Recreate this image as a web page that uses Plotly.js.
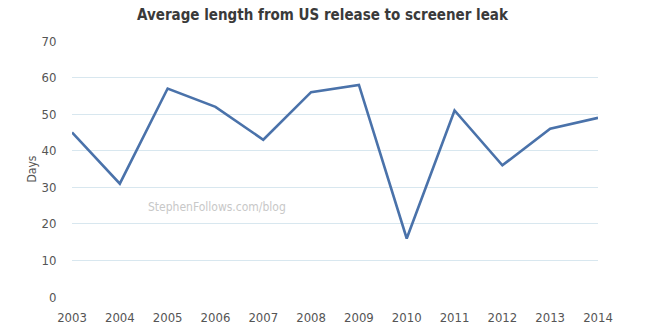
<!DOCTYPE html>
<html>
<head>
<meta charset="utf-8">
<script src="https://cdn.plot.ly/plotly-3.0.1.min.js"></script>
<style>html,body{margin:0;padding:0;background:#fff;}#chart{width:645px;height:331px;}</style>
</head>
<body>
<div id="chart"></div>
<script>
const years = [2003, 2004, 2005, 2006, 2007, 2008, 2009, 2010, 2011, 2012, 2013, 2014];
const days = [45, 31, 57, 52, 43, 56, 58, 16, 51, 36, 46, 49];
const yTicks = [0, 10, 20, 30, 40, 50, 60, 70];

const font = '"DejaVu Sans Condensed", "Liberation Sans Narrow", "Open Sans", sans-serif';

Plotly.newPlot('chart', [{
  x: years, y: days, type: 'scatter', mode: 'lines',
  line: {color: '#4a72aa', width: 2.6},
  hoverinfo: 'skip'
}], {
  width: 645, height: 331,
  margin: {l: 72, r: 47, t: 41, b: 34},
  paper_bgcolor: '#fff', plot_bgcolor: '#fff',
  showlegend: false,
  title: {text: '<b>Average length from US release to screener leak</b>',
          x: 0.5, xanchor: 'center', y: 0.955, yanchor: 'middle',
          font: {family: font, size: 15, color: '#3a3a3a'}},
  xaxis: {range: [2003, 2014], tickvals: years, ticktext: years.map(String),
          showgrid: false, zeroline: false, showline: false,
          ticks: 'outside', ticklen: 8, tickcolor: 'rgba(0,0,0,0)',
          tickfont: {family: font, size: 13, color: '#555'}},
  yaxis: {range: [0, 70], tickvals: yTicks, showgrid: true, gridcolor: '#d8e7ef', gridwidth: 1.2,
          zeroline: false, showline: false,
          ticks: 'outside', ticklen: 12, tickcolor: 'rgba(0,0,0,0)',
          tickfont: {family: font, size: 13, color: '#555'},
          title: {text: 'Days', standoff: 2, font: {family: font, size: 12, color: '#555'}}},
  annotations: [{text: 'StephenFollows.com/blog', xref: 'paper', yref: 'paper',
                 x: 0.276, y: 0.35, xanchor: 'center', yanchor: 'middle', showarrow: false,
                 font: {family: font, size: 12, color: '#c8c8c8'}}]
}, {staticPlot: true, displayModeBar: false});
</script>
</body>
</html>
